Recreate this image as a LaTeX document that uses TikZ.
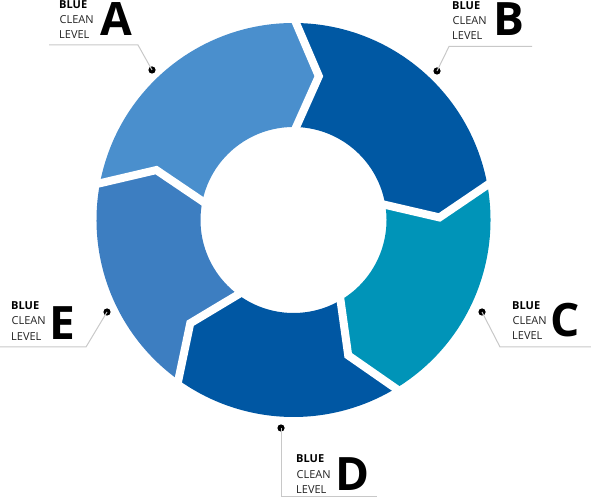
\documentclass[tikz,border=0pt]{standalone}
\usepackage{fontspec}
\setmainfont{Open Sans}
\definecolor{cA}{HTML}{4A8FCD}
\definecolor{cB}{HTML}{0058A3}
\definecolor{cC}{HTML}{0094B8}
\definecolor{cD}{HTML}{0057A3}
\definecolor{cE}{HTML}{3D7EC1}
\definecolor{txt}{HTML}{222222}
\definecolor{leader}{HTML}{C8C8C8}
\newcommand{\ringseg}[3]{%
  \fill[#1] (#2:197) arc[start angle=#2, end angle=#3, radius=197]
    -- ({#3-10}:146) -- (#3:93) arc[start angle=#3, end angle=#2, radius=93]
    -- ({#2-10}:146) -- cycle;}
\newcommand{\ringgap}[1]{%
  \draw[white, line width=8pt, line join=miter] (#1:203) -- ({#1-10}:146) -- (#1:87);}
\tikzset{
  small/.style={inner sep=0pt, anchor=base west, font=\fontsize{11}{13}\selectfont, text=txt},
  smallb/.style={small, font=\fontsize{11}{13}\selectfont\bfseries, text=black},
  big/.style={inner sep=0pt, anchor=base west, font=\fontsize{46}{50}\selectfont\bfseries, text=black},
  leadline/.style={draw=leader, line width=1pt},
  dotmark/.style={circle, fill=black, inner sep=0pt, minimum size=7.2pt},
}
\begin{document}
\begin{tikzpicture}[x=1pt, y=1pt]
\useasboundingbox (0,0) rectangle (591,500);
\begin{scope}[shift={(293.5,280)}]
  \ringseg{cA}{170}{90}
  \ringseg{cB}{90}{11}
  \ringseg{cC}{11}{-58}
  \ringseg{cD}{-58}{-125}
  \ringseg{cE}{-125}{-190}
  \ringgap{90}
  \ringgap{11}
  \ringgap{-58}
  \ringgap{-125}
  \ringgap{170}
\end{scope}
% A
\node[dotmark] (dotA) at (152,430) {};
\coordinate (elbA) at (138,455);
\coordinate (endA) at (49,455);
\draw[leadline] (dotA.center) -- (elbA) -- (endA);
\node[smallb] (a1) at (59,491.7) {BLUE};
\node[small] (a2) at (59.5,476.7) {CLEAN};
\node[small] (a3) at (59,461.7) {LEVEL};
\node[big] (A) at (100,464) {A};
% B
\node[dotmark] (dotB) at (437,429) {};
\coordinate (elbB) at (449,453.5);
\coordinate (endB) at (532,453.5);
\draw[leadline] (dotB.center) -- (elbB) -- (endB);
\node[smallb] (b1) at (452,490.5) {BLUE};
\node[small] (b2) at (452.5,475.5) {CLEAN};
\node[small] (b3) at (452,460.5) {LEVEL};
\node[big] (B) at (493,464) {B};
% C
\node[dotmark] (dotC) at (482,188) {};
\coordinate (elbC) at (500,153);
\coordinate (endC) at (591,153);
\draw[leadline] (dotC.center) -- (elbC) -- (endC);
\node[smallb] (c1) at (512,190) {BLUE};
\node[small] (c2) at (512.5,175) {CLEAN};
\node[small] (c3) at (512,160) {LEVEL};
\node[big] (C) at (550.5,163) {C};
% E
\node[dotmark] (dotE) at (107,188) {};
\coordinate (elbE) at (86,153);
\coordinate (endE) at (0,153);
\draw[leadline] (dotE.center) -- (elbE) -- (endE);
\node[smallb] (e1) at (11,190) {BLUE};
\node[small] (e2) at (11.5,175) {CLEAN};
\node[small] (e3) at (11,159.5) {LEVEL};
\node[big] (E) at (49,160) {E};
% D
\node[dotmark] (dotD) at (281,72) {};
\coordinate (elbD) at (281,3.5);
\coordinate (endD) at (377,3.5);
\draw[leadline] (dotD.center) -- (elbD) -- (endD);
\node[smallb] (d1) at (296,37) {BLUE};
\node[small] (d2) at (296.5,21) {CLEAN};
\node[small] (d3) at (296,6) {LEVEL};
\node[big] (D) at (335,9.5) {D};
\end{tikzpicture}
\end{document}
